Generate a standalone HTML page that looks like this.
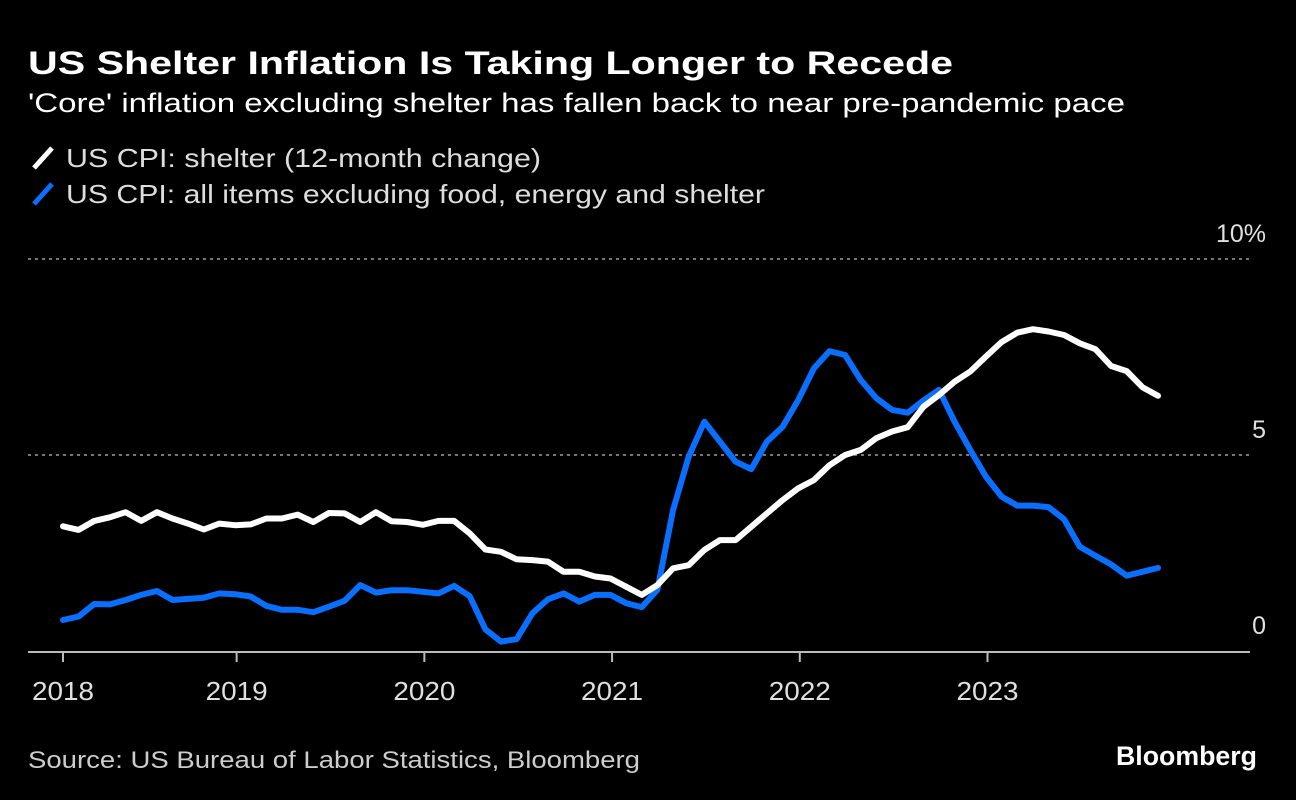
<!DOCTYPE html>
<html><head><meta charset="utf-8"><style>
html,body{margin:0;padding:0;background:#000;}
svg{display:block;font-family:"Liberation Sans",sans-serif;}
</style></head><body>
<svg id="chart" width="1296" height="800" viewBox="0 0 1296 800">
<rect width="1296" height="800" fill="#000"/>
<text x="28" y="74" font-size="32" font-weight="bold" fill="#fff" textLength="925" lengthAdjust="spacingAndGlyphs">US Shelter Inflation Is Taking Longer to Recede</text>
<text x="28" y="112" font-size="27" fill="#fff" textLength="1097" lengthAdjust="spacingAndGlyphs">'Core' inflation excluding shelter has fallen back to near pre-pandemic pace</text>
<g>
<line x1="34" y1="168" x2="52" y2="148" stroke="#fff" stroke-width="5"/>
<text x="66" y="167" font-size="26" fill="#ddd" textLength="475" lengthAdjust="spacingAndGlyphs">US CPI: shelter (12-month change)</text>
<line x1="34" y1="204" x2="52" y2="184" stroke="#0a6fff" stroke-width="5"/>
<text x="66" y="203" font-size="26" fill="#ddd" textLength="699" lengthAdjust="spacingAndGlyphs">US CPI: all items excluding food, energy and shelter</text>
</g>
<g id="grid"></g>
<g id="axes"></g>
<g id="series"></g>
<text x="28" y="768" font-size="24" fill="#ccc" textLength="612" lengthAdjust="spacingAndGlyphs">Source: US Bureau of Labor Statistics, Bloomberg</text>
<text x="1257" y="765" font-size="27" font-weight="bold" fill="#fff" text-anchor="end" textLength="141" lengthAdjust="spacingAndGlyphs">Bloomberg</text>
</svg>
<script>
const shelter=[3.18,3.09,3.32,3.41,3.54,3.32,3.54,3.38,3.25,3.1,3.25,3.21,3.23,3.38,3.38,3.48,3.29,3.52,3.51,3.29,3.54,3.31,3.29,3.22,
3.32,3.32,3.0,2.59,2.53,2.34,2.32,2.28,2.02,2.02,1.9,1.85,1.64,1.43,1.68,2.11,2.19,2.58,2.83,2.83,3.17,3.51,3.85,4.15,4.36,4.74,
5.0,5.13,5.43,5.6,5.71,6.23,6.53,6.87,7.13,7.51,7.88,8.12,8.21,8.15,8.06,7.85,7.70,7.27,7.14,6.73,6.51];
const coreExShelter=[0.79,0.88,1.2,1.19,1.3,1.43,1.53,1.3,1.33,1.36,1.47,1.45,1.39,1.15,1.05,1.05,0.99,1.13,1.28,1.68,1.49,1.55,1.55,1.51,
1.47,1.66,1.4,0.55,0.24,0.3,0.96,1.32,1.47,1.26,1.43,1.43,1.22,1.12,1.56,3.6,4.96,5.85,5.34,4.83,4.64,5.34,5.72,6.40,7.21,7.65,
7.55,6.91,6.45,6.15,6.08,6.39,6.66,5.85,5.13,4.45,3.94,3.71,3.71,3.67,3.36,2.66,2.43,2.21,1.92,2.02,2.12];
const yearLabels=["2018","2019","2020","2021","2022","2023"];
const yearTickIndex=[0,11.1,23.1,35.1,47.1,59.1];
const yTicks=[0,5,10];
const yTickLabels=["0","5","10%"];

const NS="http://www.w3.org/2000/svg";
const x=i=>63+i*(1158-63)/70;
const y=v=>651-v*39.2;
function mk(t,a,p){const e=document.createElementNS(NS,t);for(const k in a)e.setAttribute(k,a[k]);p.appendChild(e);return e;}
const grid=document.getElementById('grid'),axes=document.getElementById('axes'),series=document.getElementById('series');
yTicks.forEach((v,i)=>{
  if(v>0){const g=mk('line',{x1:28,x2:1250,y1:y(v),y2:y(v),stroke:'#777','stroke-width':2,'stroke-dasharray':'3,4'},grid);
  
  }
  const t=mk('text',{x:1266,y:y(v)-17,'font-size':25,fill:'#e0e0e0','text-anchor':'end'},axes);
  t.textContent=yTickLabels[i];
  
  
});
const ax=mk('line',{x1:28,x2:1250,y1:652,y2:652,stroke:'#bbb','stroke-width':2},axes);


yearLabels.forEach((lab,i)=>{
  const xx=x(yearTickIndex[i]);
  const tk=mk('line',{x1:xx,x2:xx,y1:652,y2:662,stroke:'#bbb','stroke-width':2},axes);
  
  
  const t=mk('text',{x:xx-31,y:700,'font-size':26,fill:'#e0e0e0',textLength:62,lengthAdjust:'spacingAndGlyphs'},axes);
  t.textContent=lab;
  
  
});
function line(data,color,name){
  const p=mk('polyline',{points:data.map((v,i)=>x(i).toFixed(1)+','+y(v).toFixed(1)).join(' '),fill:'none',stroke:color,'stroke-width':6,'stroke-linejoin':'round','stroke-linecap':'round'},series);
  
  
}
line(coreExShelter,'#0a6fff','line-core-ex-shelter');
line(shelter,'#ffffff','line-shelter');
</script>
</body></html>
